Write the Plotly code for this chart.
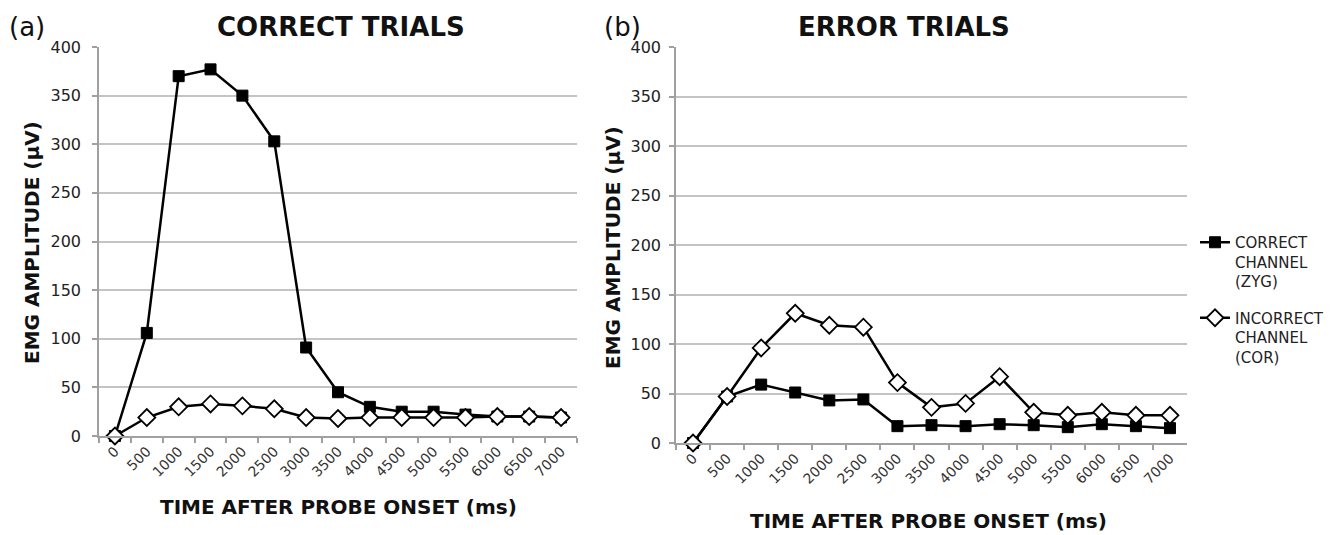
import plotly.graph_objects as go

categories = ["0", "500", "1000", "1500", "2000", "2500", "3000", "3500",
              "4000", "4500", "5000", "5500", "6000", "6500", "7000"]

correct_trials_zyg = [0, 106, 370, 377, 350, 303, 91, 45, 30, 25, 25, 22, 20, 20, 19]
correct_trials_cor = [0, 19, 30, 33, 31, 28, 19, 18, 19, 19, 19, 19, 20, 20, 19]

error_trials_zyg = [0, 47, 59, 51, 43, 44, 17, 18, 17, 19, 18, 16, 19, 17, 15]
error_trials_cor = [0, 47, 96, 131, 119, 117, 61, 36, 40, 67, 31, 28, 31, 28, 28]

y_ticks = [0, 50, 100, 150, 200, 250, 300, 350, 400]

W, H = 1337, 535
OFF = 8  # page body margin offset
FONT = "DejaVu Sans"

def px_x(v):
    return (v - OFF) / W

def px_y(v):
    return 1 - (v - OFF) / H

fig = go.Figure()

sq = dict(symbol="square", size=11, color="black", line=dict(color="black", width=1))
dm = dict(symbol="diamond", size=13, color="white", line=dict(color="black", width=1.8))
ln = dict(color="black", width=2.5)

fig.add_trace(go.Scatter(x=categories, y=correct_trials_zyg, mode="lines+markers",
                         line=ln, marker=sq, xaxis="x", yaxis="y",
                         showlegend=False, cliponaxis=False))
fig.add_trace(go.Scatter(x=categories, y=correct_trials_cor, mode="lines+markers",
                         line=ln, marker=dm, xaxis="x", yaxis="y",
                         showlegend=False, cliponaxis=False))
fig.add_trace(go.Scatter(x=categories, y=error_trials_zyg, mode="lines+markers",
                         line=ln, marker=sq, xaxis="x2", yaxis="y2", legendgroup="a",
                         name="CORRECT<br>CHANNEL<br>(ZYG)", cliponaxis=False))
fig.add_trace(go.Scatter(x=categories, y=error_trials_cor, mode="lines+markers",
                         line=ln, marker=dm, xaxis="x2", yaxis="y2", legendgroup="b",
                         name="INCORRECT<br>CHANNEL<br>(COR)", cliponaxis=False))

xcommon = dict(type="category", range=[-0.5, 14.5], tickson="boundaries",
               showgrid=False, showline=True, linecolor="#a0a0a0", linewidth=1.5,
               ticks="outside", ticklen=5, tickcolor="#a0a0a0", tickwidth=1.5,
               tickangle=-45, tickfont=dict(family=FONT, size=14, color="#333333"),
               zeroline=False, fixedrange=True, automargin=False)
ycommon = dict(range=[0, 400], tickvals=y_ticks, showgrid=True,
               gridcolor="#c4c4c4", gridwidth=1.5, showline=True,
               linecolor="#a0a0a0", linewidth=1.5, ticks="outside", ticklen=5,
               tickcolor="#a0a0a0", tickwidth=1.5,
               tickfont=dict(family=FONT, size=16, color="#222222"),
               zeroline=False, fixedrange=True, automargin=False)

fig.update_layout(
    width=W, height=H,
    margin=dict(l=0, r=0, t=0, b=0, autoexpand=False),
    paper_bgcolor="white", plot_bgcolor="white",
    font=dict(family=FONT, color="#111111"),
    xaxis=dict(domain=[px_x(99), px_x(577)], anchor="y", **xcommon),
    yaxis=dict(domain=[px_y(436), px_y(47)], anchor="x", ticklabelstandoff=8, **ycommon),
    xaxis2=dict(domain=[px_x(676), px_x(1187)], anchor="y2", **xcommon),
    yaxis2=dict(domain=[px_y(443), px_y(47)], anchor="x2", ticklabelstandoff=5, **ycommon),
    legend=dict(x=px_x(1195), y=px_y(226), xanchor="left", yanchor="top",
                font=dict(family=FONT, size=15, color="#222222"),
                itemwidth=30, valign="top", tracegroupgap=14,
                traceorder="grouped", bgcolor="rgba(0,0,0,0)"),
    showlegend=True,
)

ann = []
def add_text(text, x, y, size, bold=False, angle=0):
    t = f"<b>{text}</b>" if bold else text
    ann.append(dict(text=t, x=px_x(x), y=px_y(y), xref="paper", yref="paper",
                    xanchor="center", yanchor="middle", showarrow=False,
                    textangle=angle, font=dict(family=FONT, size=size, color="#111111")))

add_text("(a)", 27, 27, 26)
add_text("(b)", 622, 27, 26)
add_text("CORRECT TRIALS", 341, 27, 26, bold=True)
add_text("ERROR TRIALS", 904, 27, 26, bold=True)
add_text("EMG AMPLITUDE (μV)", 32, 243, 20, bold=True, angle=-90)
add_text("EMG AMPLITUDE (μV)", 613, 248, 20, bold=True, angle=-90)
add_text("TIME AFTER PROBE ONSET (ms)", 338, 507, 20, bold=True)
add_text("TIME AFTER PROBE ONSET (ms)", 928, 521, 20, bold=True)
fig.update_layout(annotations=ann)

fig.write_html("out.html")
